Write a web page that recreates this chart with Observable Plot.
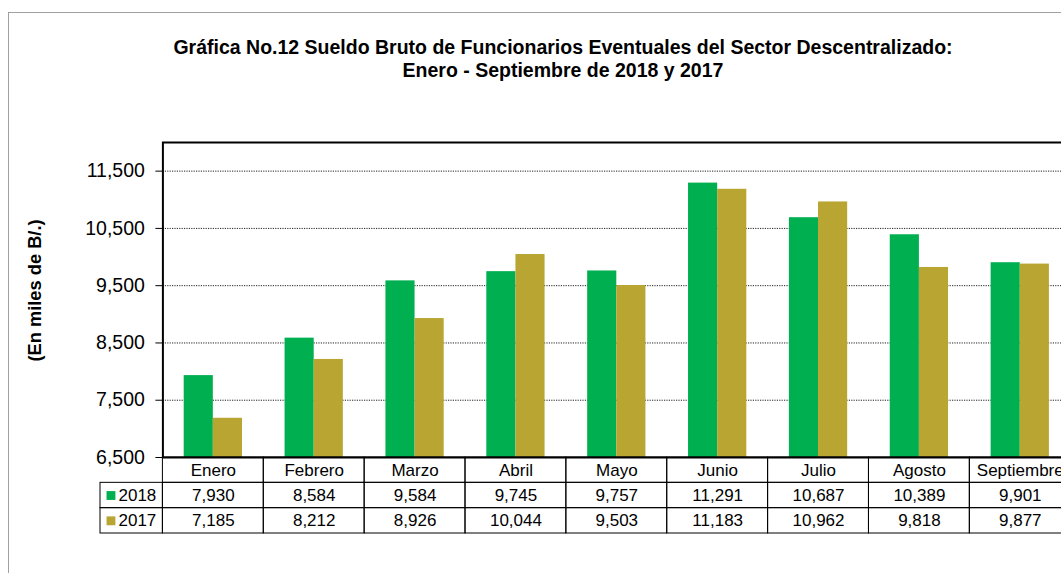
<!DOCTYPE html>
<html><head><meta charset="utf-8">
<script src="https://cdn.jsdelivr.net/npm/d3@7"></script>
<script src="https://cdn.jsdelivr.net/npm/@observablehq/plot@0.6"></script>
<style>
html,body{margin:0;padding:0;width:1061px;height:573px;overflow:hidden;background:#fff;font-family:"Liberation Sans",Arial,sans-serif;}
#wrap{position:relative;width:1061px;height:573px;overflow:hidden;}
#box{position:absolute;left:8px;top:12px;width:1200px;height:800px;border:1px solid #a0a0a0;}
#title{position:absolute;left:0;width:1126px;top:36px;text-align:center;font-weight:bold;font-size:19.5px;line-height:23px;color:#000;white-space:nowrap;}
#main{position:absolute;left:0;top:0;width:1072px;}
#table{position:absolute;left:0;top:456px;width:1072px;}
#wrap svg{max-width:none !important;}
</style></head>
<body>
<div id="wrap">
  <div id="box"></div>
  <div id="title">Gráfica No.12 Sueldo Bruto de Funcionarios Eventuales del Sector Descentralizado:<br>Enero - Septiembre de 2018 y 2017</div>
  <div id="main"></div>
  <div id="table"></div>
</div>
<script>
const months = ["Enero","Febrero","Marzo","Abril","Mayo","Junio","Julio","Agosto","Septiembre"];
const seriesNames = ["2018","2017"];
const series2018 = [7930, 8584, 9584, 9745, 9757, 11291, 10687, 10389, 9901];
const series2017 = [7185, 8212, 8926, 10044, 9503, 11183, 10962, 9818, 9877];
const yTicks = [6500, 7500, 8500, 9500, 10500, 11500];
const yDomain = [6500, 12000];
const colors = ["#00B050", "#B8A532"];
const yTitle = "(En miles de B/.)";

const fmt = d3.format(",");
const rows = months.flatMap((m, i) => [
  {month: m, year: "2018", value: series2018[i]},
  {month: m, year: "2017", value: series2017[i]}
]);

const W = 1072, left = 162.4, right = 1.8;
const bw = (W - left - right) / months.length;
const outer = 21.3, barW = (bw - 2 * outer) / 2;
const font = "'Liberation Sans', Arial, sans-serif";

const main = Plot.plot({
  width: W, height: 573,
  marginLeft: left, marginRight: right, marginTop: 142, marginBottom: 116,
  style: {fontFamily: font, fontSize: "19.5px", color: "#000", background: "transparent", overflow: "visible", maxWidth: "none"},
  x: {domain: months, padding: 0, round: false, axis: null},
  y: {domain: yDomain, ticks: yTicks, tickFormat: fmt, tickSize: 7, tickPadding: 11, label: null},
  color: {domain: seriesNames, range: colors},
  marks: [
    Plot.ruleY(yTicks.slice(1), {stroke: "#222", strokeDasharray: "1.2,1.2"}),
    Plot.barY(rows.filter(d => d.year === "2018"), {x: "month", y1: yDomain[0], y2: "value", fill: "year", insetLeft: outer, insetRight: outer + barW}),
    Plot.barY(rows.filter(d => d.year === "2017"), {x: "month", y1: yDomain[0], y2: "value", fill: "year", insetLeft: outer + barW, insetRight: outer}),
    Plot.frame({stroke: "#000", strokeWidth: 2}),
    Plot.text([yTitle], {frameAnchor: "left", textAnchor: "middle", dx: -128, dy: -9.5, rotate: -90, fontWeight: "bold", fontSize: 18.3, text: d => d})
  ]
});
document.getElementById("main").appendChild(main);

// data table
const tableCols = ["", ...months];
const tableRows = ["cat", ...seriesNames];
const headerCells = months.map(m => ({col: m, row: "cat", text: m}));
const valueCells = rows.map(d => ({col: d.month, row: d.year, text: fmt(d.value)}));
const tableCells = [...headerCells, ...valueCells];
const legendCells = seriesNames.map(s => ({col: "", row: s, year: s}));

const table = Plot.plot({
  width: W, height: 79,
  marginLeft: left - bw, marginRight: right, marginTop: 1, marginBottom: 2,
  style: {fontFamily: font, fontSize: "17px", color: "#000", background: "transparent", overflow: "visible", maxWidth: "none"},
  x: {domain: tableCols, padding: 0, round: false, axis: null},
  y: {domain: tableRows, padding: 0, round: false, axis: null},
  color: {domain: seriesNames, range: colors},
  marks: [
    Plot.cell(tableCells, {x: "col", y: "row", fill: "none", stroke: "#000", strokeWidth: 1}),
    Plot.cell(legendCells, {x: "col", y: "row", fill: "none", stroke: "#000", strokeWidth: 1, insetLeft: bw - 62.4}),
    Plot.text(tableCells, {x: "col", y: "row", text: "text"}),
    Plot.dot(legendCells, {x: "col", y: "row", symbol: "square", fill: "year", r: 5, dx: -1.5}),
    Plot.text(legendCells, {x: "col", y: "row", text: "year", textAnchor: "start", dx: 6})
  ]
});
document.getElementById("table").appendChild(table);
</script>
</body></html>
